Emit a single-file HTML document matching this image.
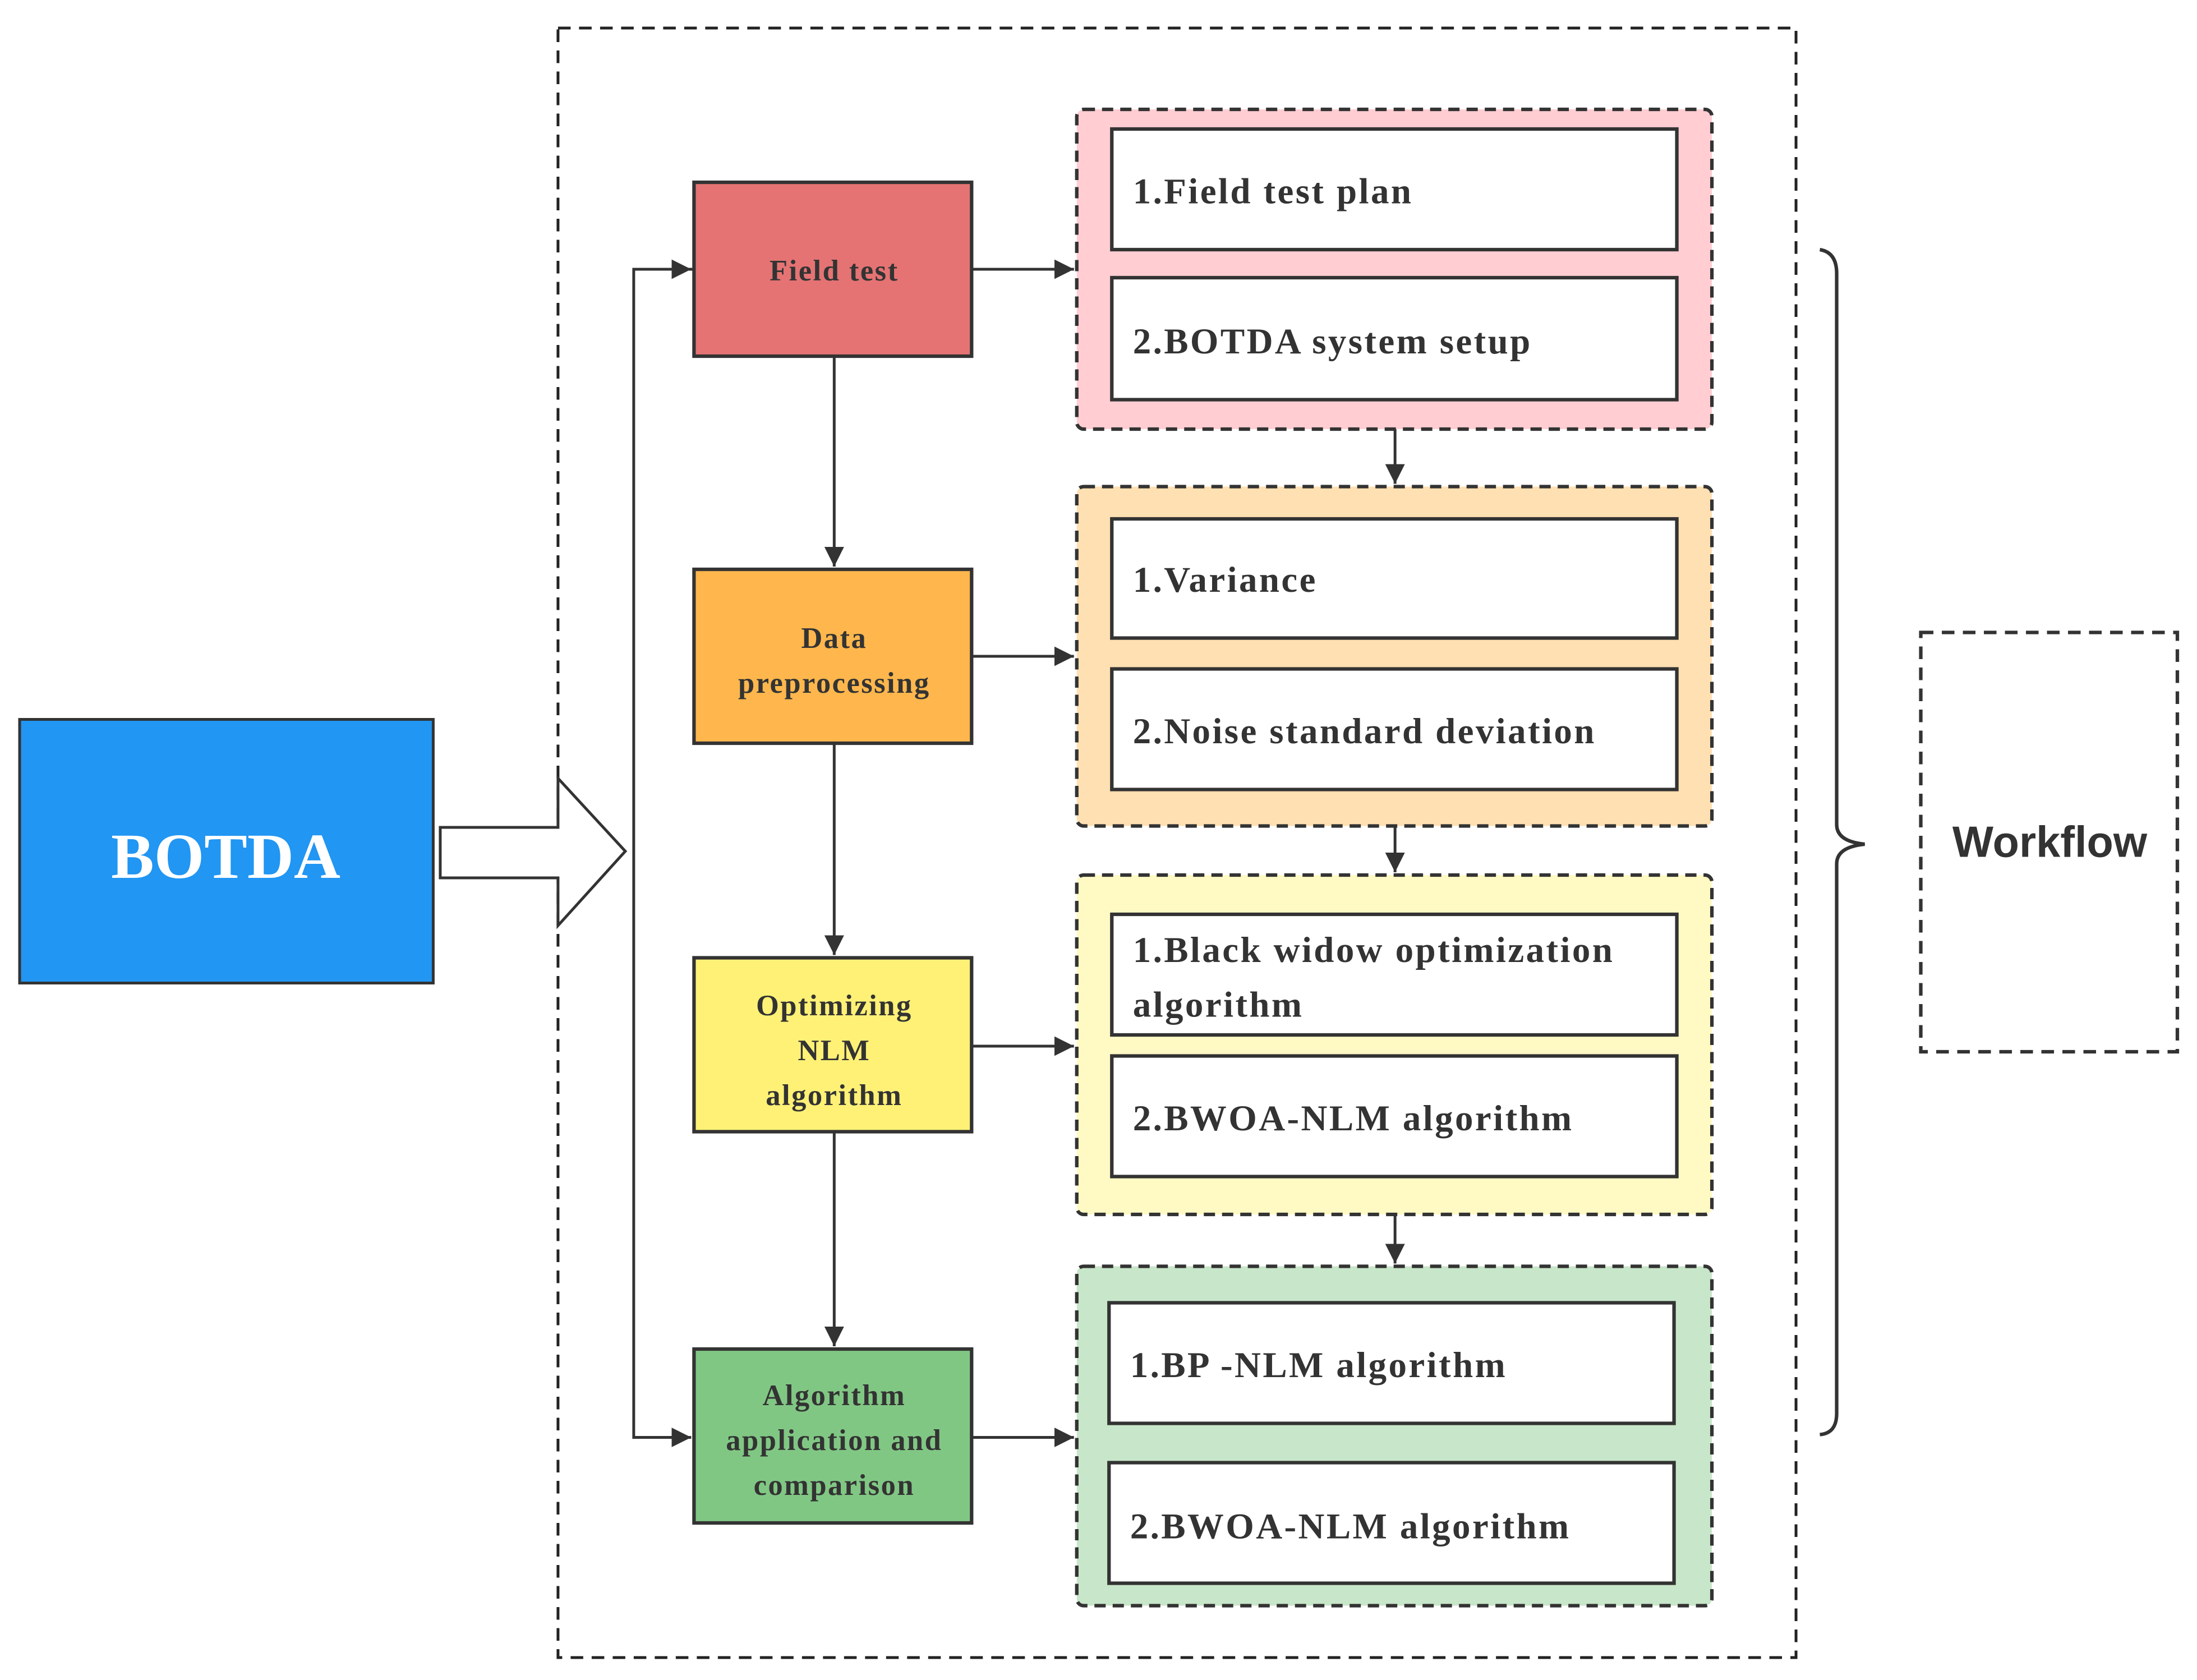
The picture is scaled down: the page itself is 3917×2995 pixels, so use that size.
<!DOCTYPE html>
<html><head><meta charset="utf-8"><style>html,body{margin:0;padding:0;background:#fff}svg{display:block}</style></head>
<body>
<svg width="3917" height="2995" viewBox="0 0 1567 1198" preserveAspectRatio="none" xmlns="http://www.w3.org/2000/svg">
<defs>
<marker id="b" viewBox="0 0 10 10" refX="10" refY="5" markerWidth="14" markerHeight="14" markerUnits="userSpaceOnUse" orient="auto"><path d="M0,0 L10,5 L0,10 z" fill="#333"/></marker>
</defs>
<rect x="0" y="0" width="1567" height="1198" fill="#fff"/>
<rect x="398" y="20" width="883" height="1162" fill="none" stroke="#222" stroke-width="2" stroke-dasharray="9,6"/>
<rect x="14" y="513" width="295" height="188" fill="#2196F3" stroke="#333" stroke-width="2"/>
<text x="161" y="626" font-family="Liberation Serif,serif" font-weight="bold" font-size="46" fill="#fff" text-anchor="middle">BOTDA</text>
<path d="M314,590 L398,590 L398,555 L446,607 L398,660 L398,626 L314,626 Z" fill="#fff" stroke="#333" stroke-width="2"/>
<g stroke="#333" stroke-width="2" fill="none">
<path d="M495,192 L452,192 L452,1025 L493,1025" marker-end="url(#b)"/>
<line x1="452" y1="192" x2="493" y2="192" marker-end="url(#b)"/>
<line x1="595" y1="254" x2="595" y2="404" marker-end="url(#b)"/>
<line x1="595" y1="530" x2="595" y2="681" marker-end="url(#b)"/>
<line x1="595" y1="807" x2="595" y2="960" marker-end="url(#b)"/>
<line x1="693" y1="192" x2="766" y2="192" marker-end="url(#b)"/>
<line x1="693" y1="468" x2="766" y2="468" marker-end="url(#b)"/>
<line x1="693" y1="746" x2="766" y2="746" marker-end="url(#b)"/>
<line x1="693" y1="1025" x2="766" y2="1025" marker-end="url(#b)"/>
<line x1="995" y1="306" x2="995" y2="345" marker-end="url(#b)"/>
<line x1="995" y1="589" x2="995" y2="622" marker-end="url(#b)"/>
<line x1="995" y1="866" x2="995" y2="901" marker-end="url(#b)"/>
</g>
<g stroke="#333" stroke-width="2.5">
<rect x="495" y="130" width="198" height="124" fill="#E57373"/>
<rect x="495" y="406" width="198" height="124" fill="#FFB74D"/>
<rect x="495" y="683" width="198" height="124" fill="#FFF176"/>
<rect x="495" y="962" width="198" height="124" fill="#81C784"/>
</g>
<g font-family="Liberation Serif,serif" font-weight="bold" font-size="21" fill="#333" text-anchor="middle" letter-spacing="1">
<text x="595" y="200">Field test</text>
<text x="595" y="462">Data</text><text x="595" y="494">preprocessing</text>
<text x="595" y="724">Optimizing</text><text x="595" y="756">NLM</text><text x="595" y="788">algorithm</text>
<text x="595" y="1002">Algorithm</text><text x="595" y="1034">application and</text><text x="595" y="1066">comparison</text>
</g>
<g stroke="#333" stroke-width="2.5" stroke-dasharray="8,5">
<rect x="768" y="78" width="453" height="228" rx="5" fill="#FFCDD2"/>
<rect x="768" y="347" width="453" height="242" rx="5" fill="#FFE0B2"/>
<rect x="768" y="624" width="453" height="242" rx="5" fill="#FFF9C4"/>
<rect x="768" y="903" width="453" height="242" rx="5" fill="#C8E6C9"/>
</g>
<g stroke="#333" stroke-width="2.5" fill="#fff">
<rect x="793" y="92" width="403" height="86"/>
<rect x="793" y="198" width="403" height="87"/>
<rect x="793" y="370" width="403" height="85"/>
<rect x="793" y="477" width="403" height="86"/>
<rect x="793" y="652" width="403" height="86"/>
<rect x="793" y="753" width="403" height="86"/>
<rect x="791" y="929" width="403" height="86"/>
<rect x="791" y="1043" width="403" height="86"/>
</g>
<g font-family="Liberation Serif,serif" font-weight="bold" font-size="26" fill="#333" letter-spacing="1.35">
<text x="808" y="145">1.Field test plan</text>
<text x="808" y="252">2.BOTDA system setup</text>
<text x="808" y="422">1.Variance</text>
<text x="808" y="530">2.Noise standard deviation</text>
<text x="808" y="686">1.Black widow optimization</text>
<text x="808" y="725">algorithm</text>
<text x="808" y="806">2.BWOA-NLM algorithm</text>
<text x="806" y="982">1.BP -NLM algorithm</text>
<text x="806" y="1097">2.BWOA-NLM algorithm</text>
</g>
<path d="M1298,178 Q1310,180 1310,195 L1310,588 Q1310,600 1330,602 Q1310,604 1310,616 L1310,1008 Q1310,1022 1298,1023" fill="none" stroke="#333" stroke-width="2.5"/>
<rect x="1370" y="451" width="183" height="299" fill="none" stroke="#333" stroke-width="2.5" stroke-dasharray="9,6"/>
<text x="1462" y="611" font-family="Liberation Sans,sans-serif" font-weight="bold" font-size="31" fill="#333" text-anchor="middle">Workflow</text>
</svg>
</body></html>
